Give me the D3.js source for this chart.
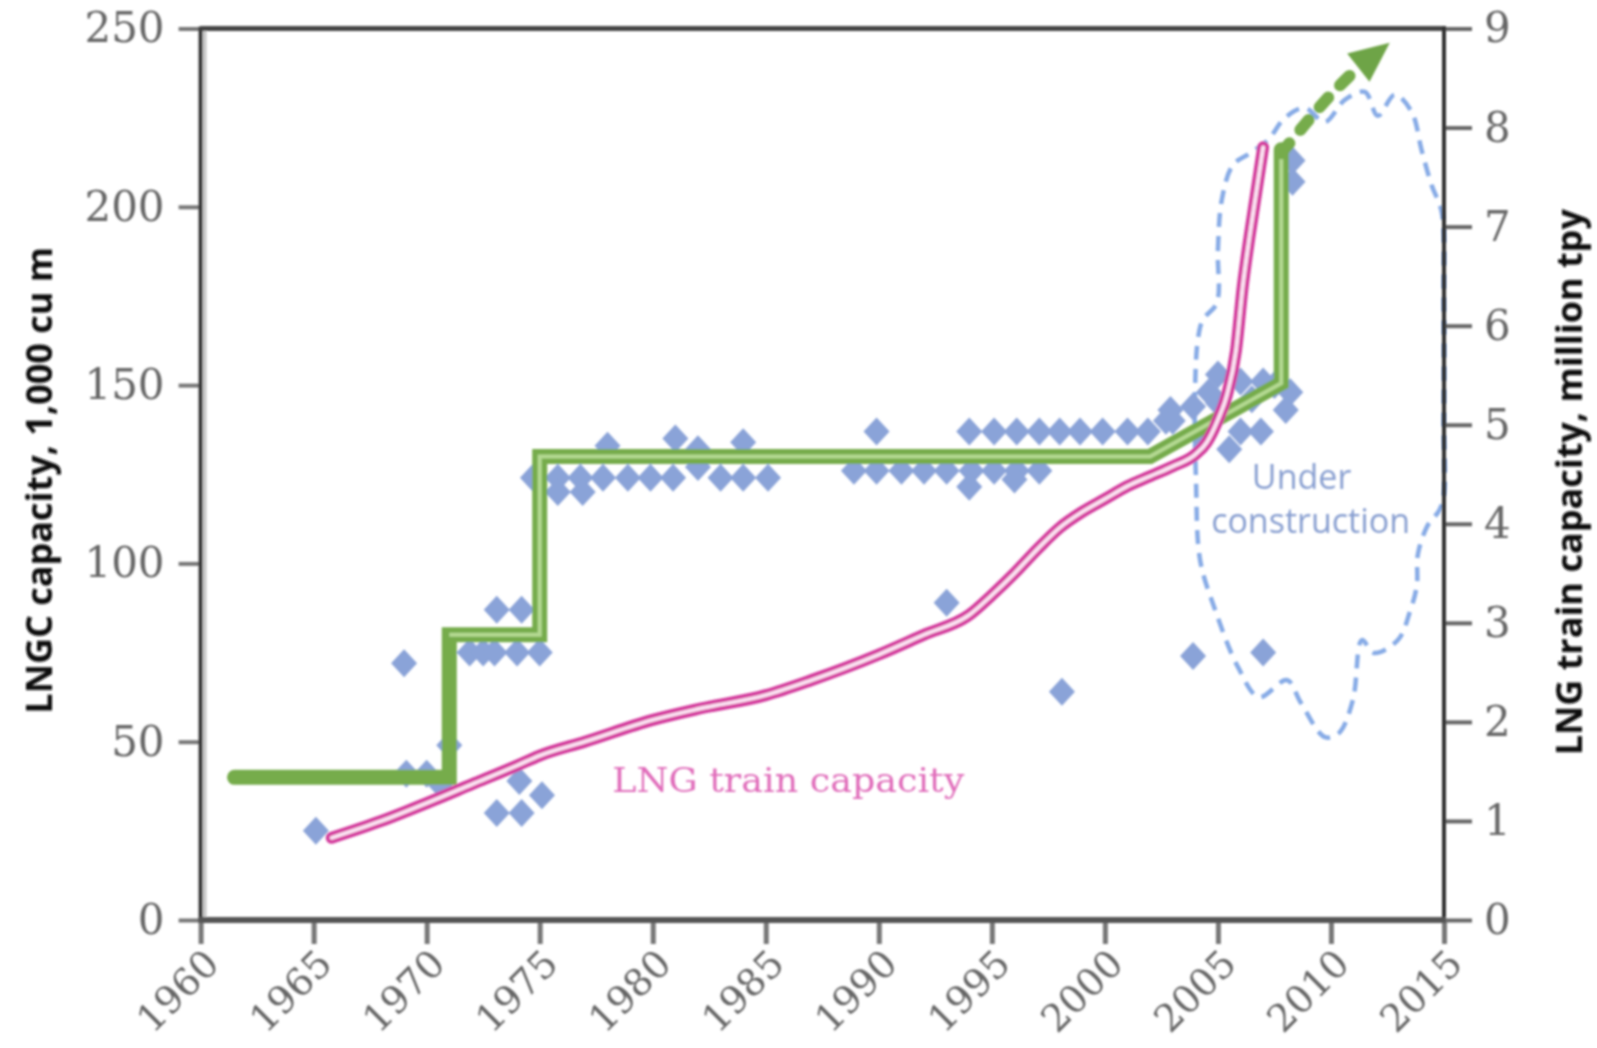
<!DOCTYPE html>
<html>
<head>
<meta charset="utf-8">
<script src="https://cdn.jsdelivr.net/npm/d3@7"></script>
<style>
  html, body { margin: 0; padding: 0; background: #fff; }
  svg { display: block; }
</style>
</head>
<body>
<svg id="chart" width="1597" height="1048"></svg>
<script>
// ---------------- DATA ----------------
const xTicks = [1960, 1965, 1970, 1975, 1980, 1985, 1990, 1995, 2000, 2005, 2010, 2015];
const leftTicks = [0, 50, 100, 150, 200, 250];
const rightTicks = [0, 1, 2, 3, 4, 5, 6, 7, 8, 9];

// LNG carrier capacity (1,000 cu m), scatter of ships by delivery year
const shipYear = [1965.1, 1969.0, 1969.1, 1970.0, 1970.6, 1971.0, 1971.9, 1972.5, 1973.0, 1974.0, 1975.0,
  1973.1, 1974.2, 1973.1, 1974.2, 1974.1, 1975.1,
  1974.7, 1975.8, 1976.8, 1977.8, 1978.9, 1979.9, 1980.9, 1983.0, 1984.0, 1985.1,
  1975.8, 1976.9, 1978.0, 1981.0, 1982.0, 1984.0, 1982.0,
  1989.9, 1994.0, 1995.1, 1996.1, 1997.1, 1998.0, 1998.9, 1999.9, 2001.0, 2001.9, 2002.7,
  1988.9, 1989.9, 1991.0, 1992.0, 1993.0, 1994.1, 1995.1, 1996.1, 1997.1, 1994.0, 1996.0,
  2002.9, 2003.9, 2005.0, 2006.0, 2007.0, 2008.2, 2008.0, 2006.0, 2006.9, 2005.5, 2004.2, 2004.6,
  2005.0, 2006.5, 2007.5, 2003.0,
  1993.0, 1998.1, 2003.9, 2007.0, 2008.3, 2008.3];
const shipCap = [25, 72, 41, 41, 38, 49, 75, 75, 75, 75, 75,
  87, 87, 30, 30, 39, 35,
  124, 124, 124, 124, 124, 124, 124, 124, 124, 124,
  120, 120, 133, 135, 132, 134, 127,
  137, 137, 137, 137, 137, 137, 137, 137, 137, 137, 140,
  126, 126, 126, 126, 126, 126, 126, 126, 126, 121.5, 123.5,
  143, 144, 153, 151, 151, 148, 143, 137, 137, 132, 136, 148,
  145, 146, 150, 140,
  89, 64, 74, 75, 213, 207];

// Largest LNGC capacity (step line, 1,000 cu m)
const maxShipYear = [1961.5, 1971.0, 1971.0, 1975.0, 1975.0, 2002.0, 2007.8, 2007.8];
const maxShipCap = [40, 40, 80, 80, 130, 130, 150.5, 216];
// projected (dashed arrow)
const projYear = [2007.8, 2008.9, 2010.0, 2011.2, 2012.6];
const projCap = [215, 223.5, 231.5, 239, 246];

// LNG train capacity (million tpy, right axis)
const trainYear = [1965.8, 1968, 1970, 1972, 1974, 1975, 1977, 1980, 1982, 1985, 1987, 1990, 1992, 1994, 1995,
  1996, 1997, 1998, 1999, 2000, 2001, 2002, 2003, 2004, 2004.5, 2005.0, 2005.4, 2005.8, 2006.1, 2006.4, 2006.7, 2007.0];
const trainCap = [0.83, 1.0, 1.18, 1.37, 1.56, 1.66, 1.8, 2.02, 2.13, 2.27, 2.42, 2.68, 2.88, 3.08, 3.28,
  3.5, 3.74, 3.96, 4.12, 4.25, 4.38, 4.48, 4.58, 4.7, 4.82, 5.05, 5.3, 5.75, 6.4, 6.9, 7.35, 7.8];

// "Under construction" outline (year, 1,000 cu m)
const ucYear = [2004.95, 2005.0, 2005.17, 2005.66, 2006.41, 2007.21, 2007.96, 2008.84, 2009.73, 2010.61, 2011.5,
  2012.07, 2012.82, 2013.57, 2014.01, 2014.45, 2014.9, 2014.99, 2014.99, 2014.9, 2014.24, 2013.84, 2013.8,
  2013.49, 2012.96, 2011.9, 2011.37, 2010.97, 2010.35, 2009.73, 2008.67, 2008.05, 2006.82, 2005.89, 2004.83,
  2004.21, 2004.03, 2003.98, 2004.11, 2004.33];
const ucCap = [173.0, 187.9, 201.9, 211.7, 215.0, 218.7, 224.9, 227.7, 223.8, 230.0, 232.2,
  225.5, 231.4, 226.6, 215.9, 206.1, 198.5, 173.9, 140.2, 116.4, 110.2, 102.4, 93.9,
  86.4, 78.5, 74.9, 78.5, 61.7, 52.4, 51.3, 60.9, 67.3, 62.5, 70.9, 87.8,
  101.0, 123.4, 145.8, 162.6, 168.3];

// ---------------- LAYOUT ----------------
const L = 200.6, R = 1444, T = 28.5, B = 920;
const x = d3.scaleLinear().domain([1960, 2015]).range([L, R]);
const yL = d3.scaleLinear().domain([0, 250]).range([B, T]);
const yR = d3.scaleLinear().domain([0, 9]).range([B, T]);

const svg = d3.select("#chart");
const defs = svg.append("defs");
defs.append("filter").attr("id", "soft").attr("x", "-5%").attr("y", "-5%").attr("width", "110%").attr("height", "110%")
  .append("feGaussianBlur").attr("stdDeviation", 1.1);

const g = svg.append("g").attr("filter", "url(#soft)");

// Under-construction dashed outline
const ucPts = ucYear.map((d, i) => [x(d), yL(ucCap[i])]);
g.append("path")
  .attr("d", d3.line().curve(d3.curveCatmullRomClosed.alpha(0.5))(ucPts))
  .attr("fill", "none")
  .attr("stroke", "#87abe6")
  .attr("stroke-width", 4.5)
  .attr("stroke-dasharray", "14 9");

g.append("text").attr("x", x(2008.7)).attr("y", yL(121)).attr("text-anchor", "middle")
  .attr("font-family", "Open Sans, sans-serif").attr("font-size", 34).attr("fill", "#889fd0")
  .text("Under");
g.append("text").attr("x", x(2009.1)).attr("y", yL(108.5)).attr("text-anchor", "middle")
  .attr("font-family", "Open Sans, sans-serif").attr("font-size", 34).attr("fill", "#889fd0")
  .text("construction");

// Scatter diamonds
g.append("g").selectAll("path").data(shipYear.map((d, i) => [d, shipCap[i]])).join("path")
  .attr("transform", d => `translate(${x(d[0])},${yL(d[1])})`)
  .attr("d", "M0,-14L13,0L0,14L-13,0Z")
  .attr("fill", "#8aa3d8");

// Green step line (max LNGC size)
const greenLine = d3.line().x(d => x(d[0])).y(d => yL(d[1]));
const greenPts = maxShipYear.map((d, i) => [d, maxShipCap[i]]);
g.append("path").attr("d", greenLine(greenPts)).attr("fill", "none")
  .attr("stroke", "#76ac4c").attr("stroke-width", 15).attr("stroke-linejoin", "miter").attr("stroke-linecap", "round");
g.append("path").attr("d", greenLine(greenPts.slice(2))).attr("fill", "none")
  .attr("stroke", "#b4d992").attr("stroke-width", 4).attr("stroke-linejoin", "miter");

// Green projected dashed arrow
const projPts = projYear.map((d, i) => [x(d), yL(projCap[i])]);
const lastA = projPts[projPts.length - 2], lastB = projPts[projPts.length - 1];
const ang = Math.atan2(lastB[1] - lastA[1], lastB[0] - lastA[0]);
const headLen = 40, headW = 18;
const baseX = lastB[0] - headLen * Math.cos(ang), baseY = lastB[1] - headLen * Math.sin(ang);
g.append("path")
  .attr("d", d3.line().curve(d3.curveCatmullRom)(projPts.slice(0, -1).concat([[baseX, baseY]])))
  .attr("fill", "none").attr("stroke", "#76ac4c").attr("stroke-width", 12)
  .attr("stroke-dasharray", "13 17").attr("stroke-linecap", "round");
g.append("path")
  .attr("d", `M${lastB[0]},${lastB[1]}L${baseX + headW * Math.sin(ang)},${baseY - headW * Math.cos(ang)}L${baseX - headW * Math.sin(ang)},${baseY + headW * Math.cos(ang)}Z`)
  .attr("fill", "#6ea446");

// Magenta train capacity double line
const trainLine = d3.line().curve(d3.curveMonotoneX).x(d => x(d[0])).y(d => yR(d[1]));
const trainPts = trainYear.map((d, i) => [d, trainCap[i]]);
g.append("path").attr("d", trainLine(trainPts)).attr("fill", "none")
  .attr("stroke", "#d43c9e").attr("stroke-width", 12).attr("stroke-linecap", "round");
g.append("path").attr("d", trainLine(trainPts)).attr("fill", "none")
  .attr("stroke", "#fbe3f2").attr("stroke-width", 4).attr("stroke-linecap", "round");

g.append("text").attr("x", x(1986.0)).attr("y", yR(1.29)).attr("text-anchor", "middle")
  .attr("font-family", "DejaVu Serif, serif").attr("font-size", 34).attr("fill", "#e06cba")
  .attr("textLength", 352).attr("lengthAdjust", "spacingAndGlyphs")
  .text("LNG train capacity");

// ---------------- AXES ----------------
const ax = svg.append("g").attr("filter", "url(#soft)");
const tickFont = "DejaVu Serif, serif";

// left ticks + labels
const la = ax.append("g").attr("transform", `translate(${L},0)`)
  .call(d3.axisLeft(yL).tickValues(leftTicks).tickSize(22).tickSizeOuter(0).tickPadding(14).tickFormat(d3.format("d")));
la.select(".domain").remove();
la.selectAll(".tick line").attr("stroke", "#777").attr("stroke-width", 4);
la.selectAll(".tick text").attr("font-family", tickFont).attr("font-size", 42).attr("fill", "#666");

// right ticks + labels
const ra = ax.append("g").attr("transform", `translate(${R},0)`)
  .call(d3.axisRight(yR).tickValues(rightTicks).tickSize(28).tickSizeOuter(0).tickPadding(12).tickFormat(d3.format("d")));
ra.select(".domain").remove();
ra.selectAll(".tick line").attr("stroke", "#666").attr("stroke-width", 4);
ra.selectAll(".tick text").attr("font-family", tickFont).attr("font-size", 42).attr("fill", "#666");

// bottom ticks + rotated labels
const ba = ax.append("g").attr("transform", `translate(0,${B})`)
  .call(d3.axisBottom(x).tickValues(xTicks).tickSize(24).tickSizeOuter(0).tickFormat(d3.format("d")));
ba.select(".domain").remove();
ba.selectAll(".tick line").attr("stroke", "#777").attr("stroke-width", 5);
ba.selectAll(".tick text")
  .attr("font-family", tickFont).attr("font-size", 38).attr("fill", "#666")
  .attr("text-anchor", "end").attr("dy", null).attr("y", 0)
  .attr("transform", "translate(20,46) rotate(-45)");

// frame
ax.append("line").attr("x1", L + 4).attr("x2", L + 4).attr("y1", T).attr("y2", B).attr("stroke", "#c8c8c8").attr("stroke-width", 4);
ax.append("line").attr("x1", L).attr("x2", L).attr("y1", T - 2).attr("y2", B + 2).attr("stroke", "#333").attr("stroke-width", 4);
ax.append("line").attr("x1", L).attr("x2", R + 2).attr("y1", T).attr("y2", T).attr("stroke", "#444").attr("stroke-width", 5);
ax.append("line").attr("x1", R).attr("x2", R).attr("y1", T - 2).attr("y2", B + 2).attr("stroke", "#333").attr("stroke-width", 4);
ax.append("line").attr("x1", L - 2).attr("x2", R + 2).attr("y1", B).attr("y2", B).attr("stroke", "#555").attr("stroke-width", 6);

// axis titles
ax.append("text").attr("transform", `translate(42,${(T + B) / 2 + 6}) rotate(-90)`)
  .attr("text-anchor", "middle").attr("dominant-baseline", "middle")
  .attr("font-family", "Open Sans, sans-serif").attr("font-weight", 700).attr("font-size", 36).attr("fill", "#111")
  .text("LNGC capacity, 1,000 cu m");
ax.append("text").attr("transform", `translate(1572,${(T + B) / 2 + 8}) rotate(-90)`)
  .attr("text-anchor", "middle").attr("dominant-baseline", "middle")
  .attr("font-family", "Open Sans, sans-serif").attr("font-weight", 700).attr("font-size", 36).attr("fill", "#111")
  .text("LNG train capacity, million tpy");
</script>
</body>
</html>
